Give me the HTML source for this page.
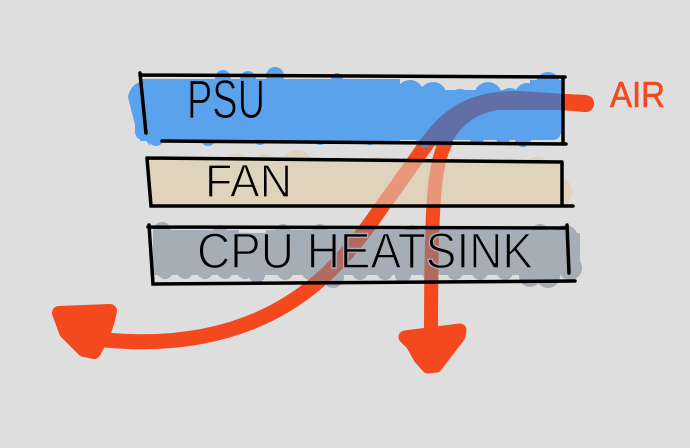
<!DOCTYPE html>
<html><head><meta charset="utf-8"><style>
html,body{margin:0;padding:0;background:#dedede;width:690px;height:448px;overflow:hidden}
svg{display:block}
text{font-family:"Liberation Sans",sans-serif}
</style></head><body>
<svg width="690" height="448" viewBox="0 0 690 448" xmlns="http://www.w3.org/2000/svg">
<defs>
<clipPath id="cb"><path d="M130 60H563V146H130Z"/></clipPath>
<clipPath id="ct"><path d="M148 160H565V206H148Z"/></clipPath>
<clipPath id="cg"><path d="M150 228H580V283H150Z"/></clipPath>
<g id="lines">
<path d="M565 94L585 95Q594 96 594 104Q593 112 585 112L560 110L500 110C478 112 460 125 450 146L417 146C440 108 470 90 520 91Z"/>
<path d="M428 142C413 163 398 185 383 205C365 232 345 258 320 280C280 315 215 350 105 340" fill="none" stroke="inherit" stroke-width="15" stroke-linecap="round"/>
<path d="M446 142C434 165 431 200 431 340" fill="none" stroke="inherit" stroke-width="14" stroke-linecap="round"/>
</g>
</defs>

<!-- red underlay -->
<g fill="#f4481f" stroke="#f4481f" stroke-width="0"><use href="#lines"/></g>

<!-- blue blob -->
<g fill="#5aa2ec">
<rect x="140" y="79" width="260" height="62" />
<rect x="135" y="90" width="426" height="50" rx="8"/>
<path d="M128 97Q130 84 145 80L150 146L135 125Z"/>
<circle cx="223" cy="78" r="8"/><circle cx="248" cy="79" r="8"/><circle cx="275" cy="76" r="9"/><circle cx="337" cy="79" r="6"/>
<circle cx="410" cy="94" r="14"/><circle cx="433" cy="96" r="14"/><circle cx="460" cy="101" r="12"/><circle cx="488" cy="96" r="14"/><circle cx="510" cy="100" r="12"/><circle cx="527" cy="95" r="12"/>
<rect x="530" y="80" width="31" height="30"/><circle cx="548" cy="84" r="12"/>
<circle cx="156" cy="138" r="8"/><circle cx="208" cy="138" r="8"/><circle cx="260" cy="138" r="7"/><circle cx="320" cy="138" r="7"/><circle cx="370" cy="138" r="7"/>
<circle cx="425" cy="138" r="9"/><circle cx="477" cy="138" r="7"/><circle cx="503" cy="138" r="7"/><circle cx="523" cy="139" r="8"/>
</g>

<!-- tan blob -->
<g fill="#dfd3bb">
<rect x="150" y="160" width="412" height="45"/>
<circle cx="237" cy="166" r="13"/><circle cx="265" cy="165" r="11"/><circle cx="297" cy="166" r="16"/><circle cx="337" cy="167" r="10"/><circle cx="377" cy="167" r="10"/>
<circle cx="455" cy="170" r="12"/><circle cx="510" cy="168" r="10"/><circle cx="537" cy="170" r="13"/><circle cx="556" cy="192" r="16"/>
<circle cx="330" cy="201" r="7"/><circle cx="497" cy="201" r="7"/>
</g>

<!-- grey blob -->
<g fill="#a5adb6">
<rect x="153" y="233" width="427" height="42"/>
<circle cx="162" cy="231" r="9"/><circle cx="220" cy="232" r="7"/><circle cx="283" cy="232" r="8"/><circle cx="320" cy="232" r="8"/><circle cx="412" cy="232" r="7"/>
<rect x="154" y="230" width="85" height="8"/><rect x="266" y="230" width="300" height="8"/>
<circle cx="540" cy="233" r="9"/><circle cx="565" cy="238" r="13"/>
<circle cx="165" cy="271" r="8"/><circle cx="185" cy="271" r="8"/><circle cx="205" cy="271" r="8"/><circle cx="225" cy="271" r="8"/><circle cx="245" cy="271" r="8"/>
<circle cx="257" cy="275" r="8"/><circle cx="285" cy="272" r="8"/><circle cx="310" cy="272" r="8"/><circle cx="333" cy="277" r="11"/><circle cx="360" cy="272" r="8"/><circle cx="385" cy="272" r="8"/><circle cx="403" cy="275" r="8"/><circle cx="430" cy="272" r="8"/><circle cx="455" cy="272" r="8"/><circle cx="480" cy="272" r="8"/><circle cx="505" cy="272" r="8"/>
<circle cx="530" cy="276" r="11"/><circle cx="548" cy="276" r="12"/><circle cx="570" cy="268" r="12"/>
</g>

<!-- tinted arrow where it passes behind panels -->
<g clip-path="url(#cb)" fill="#626fa6" stroke="#626fa6" stroke-width="0"><use href="#lines"/></g>
<path d="M565 94L585 95Q594 96 594 104Q593 112 585 112L565 110Z" fill="#f4481f"/>
<g clip-path="url(#ct)" fill="#e9957a" stroke="#e9957a" stroke-width="0"><use href="#lines"/></g>
<g clip-path="url(#cg)" fill="#b2695f" stroke="#b2695f" stroke-width="0"><use href="#lines"/></g>

<!-- arrowheads -->
<path d="M59 313L110 311L108 320L103 335L94 352L84 350L66 332Z" fill="#f4481f" stroke="#f4481f" stroke-width="14" stroke-linejoin="round"/>
<path d="M405 337L460 330L459 336L436 366L428 367L420 358L412 344Z" fill="#f4481f" stroke="#f4481f" stroke-width="13" stroke-linejoin="round"/>

<!-- black outlines -->
<g stroke="#000" stroke-width="3.5" stroke-linecap="round" fill="none">
<path d="M140 75L565 77M140 73L146 133M162 141L566 144M563 77V144"/>
<path d="M147 158L562 162M147 158L151 206L573 206M562 162V206"/>
<path d="M148 227L567 228M149 225L153 284L575 281M567 225L569 273"/>
</g>

<!-- labels -->
<text x="187" y="118" font-size="55" textLength="78" lengthAdjust="spacingAndGlyphs" fill="#000" stroke="#5aa2ec" stroke-width="1.2">PSU</text>
<text x="205" y="197" font-size="46" textLength="87" lengthAdjust="spacingAndGlyphs" fill="#000" stroke="#dfd3bb" stroke-width="1.2">FAN</text>
<text x="197" y="268" font-size="50" textLength="336" lengthAdjust="spacingAndGlyphs" fill="#000" stroke="#a5adb6" stroke-width="1.4">CPU HEATSINK</text>
<text x="610" y="107" font-size="36" textLength="55" lengthAdjust="spacingAndGlyphs" fill="#f4481f" stroke="#f4481f" stroke-width=".6">AIR</text>
</svg>
</body></html>
